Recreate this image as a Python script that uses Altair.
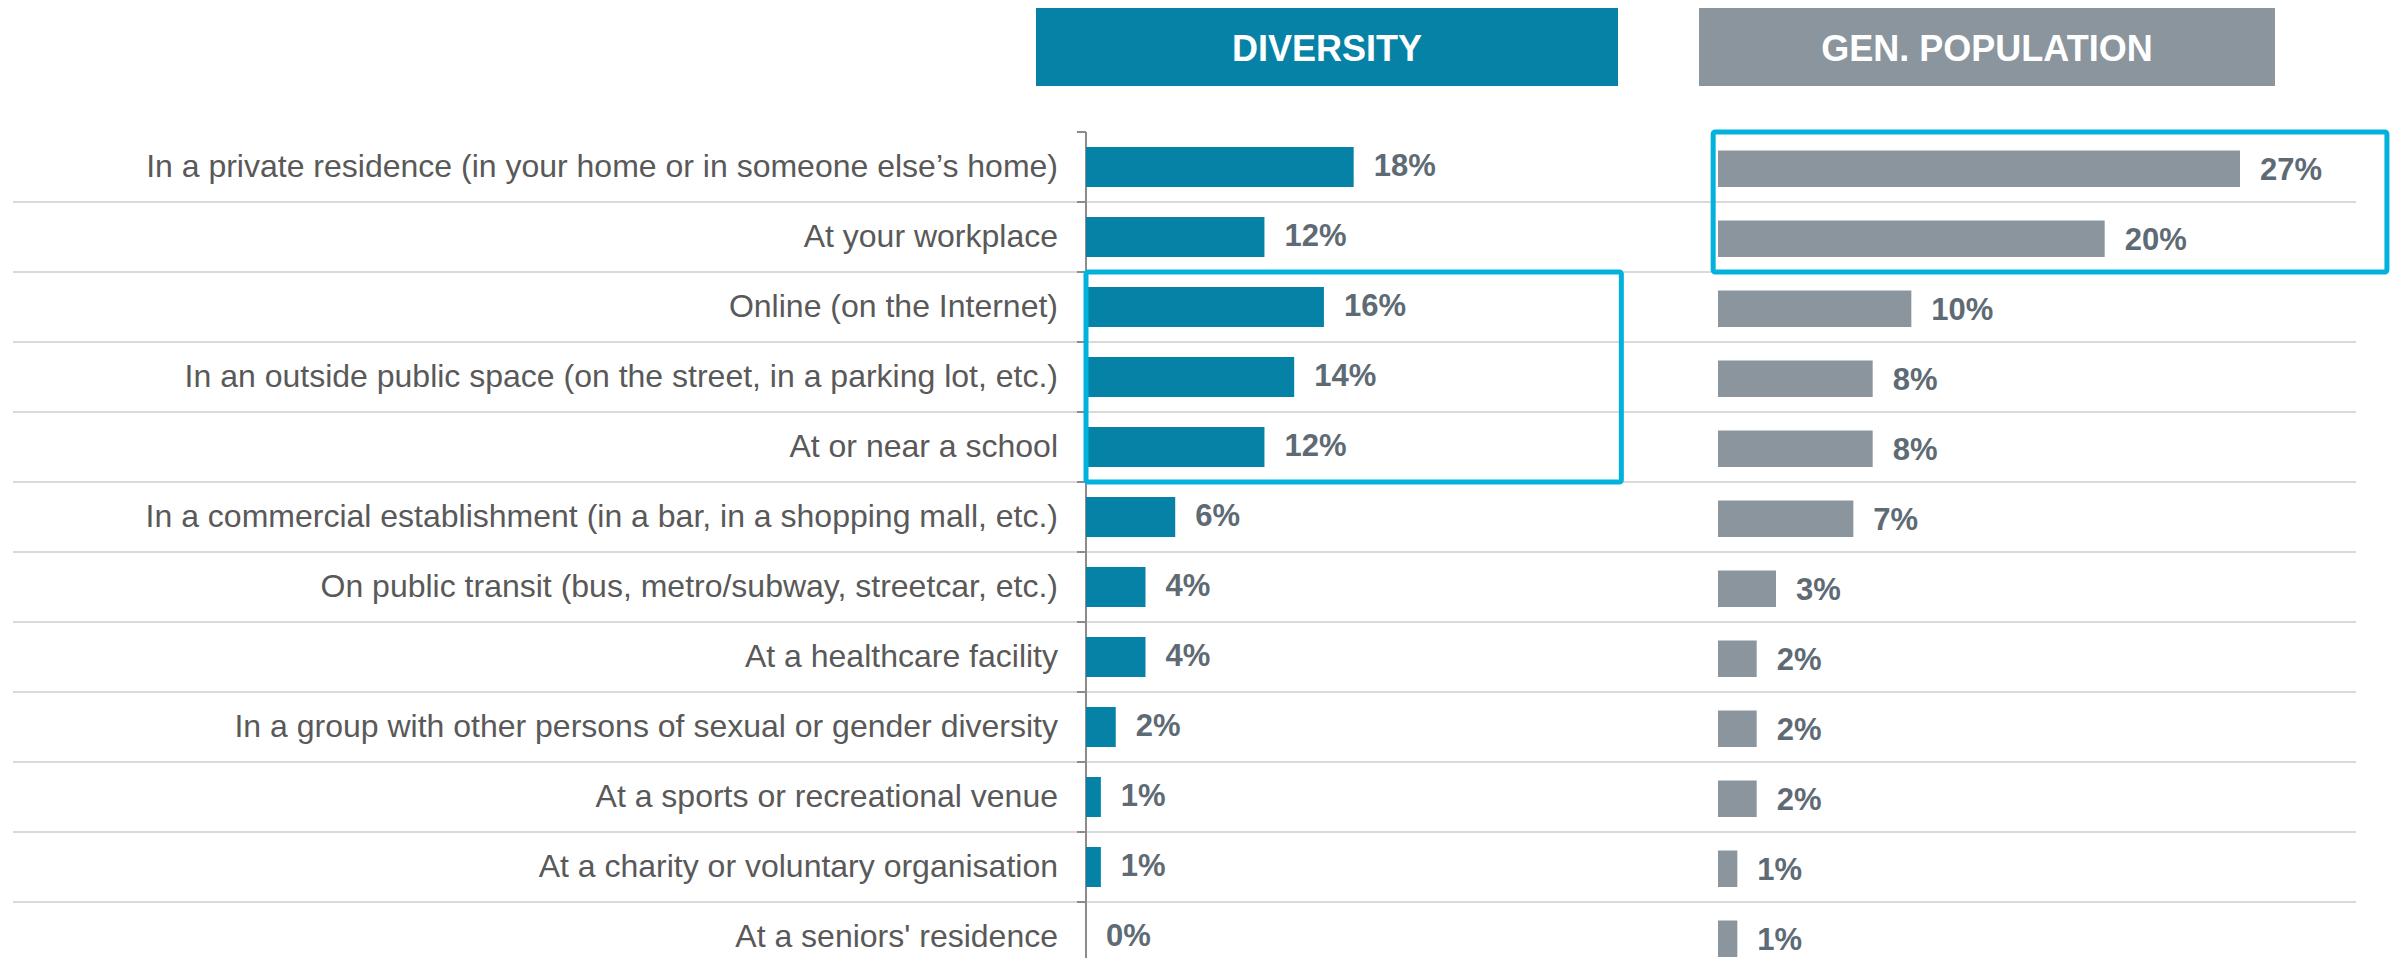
import altair as alt
import pandas as pd

# ---------------- data ----------------
categories = [
    "In a private residence (in your home or in someone else’s home)",
    "At your workplace",
    "Online (on the Internet)",
    "In an outside public space (on the street, in a parking lot, etc.)",
    "At or near a school",
    "In a commercial establishment (in a bar, in a shopping mall, etc.)",
    "On public transit (bus, metro/subway, streetcar, etc.)",
    "At a healthcare facility",
    "In a group with other persons of sexual or gender diversity",
    "At a sports or recreational venue",
    "At a charity or voluntary organisation",
    "At a seniors' residence",
]
diversity = [18, 12, 16, 14, 12, 6, 4, 4, 2, 1, 1, 0]
gen_population = [27, 20, 10, 8, 8, 7, 3, 2, 2, 2, 1, 1]
panel_titles = ["DIVERSITY", "GEN. POPULATION"]

# highlighted groups of rows (outlined boxes)
highlight_panel = ["DIVERSITY", "GEN. POPULATION"]
highlight_first_row = [2, 0]
highlight_last_row = [4, 1]
highlight_x_start = [0, -0.25]
highlight_x_end = [36, 34.6]

# ---------------- style ----------------
FONT = "Liberation Sans, Arial, sans-serif"
TEAL = "#0582a5"
GREY = "#8a959e"
VALUE_COLOR = "#5e6a74"
LABEL_COLOR = "#595959"
BOX_COLOR = "#03b1dd"
GRID_COLOR = "#d9d9d9"
AXIS_COLOR = "#8c8c8c"

ROW_H = 70
Y_DOMAIN = [-0.5, 11.3]
BODY_H = round((Y_DOMAIN[1] - Y_DOMAIN[0]) * ROW_H)
HALF_BAR = 0.2857
TICK_LEN = 9

LABEL_W = 1073
DIV_W = 632
DIV_DOMAIN = [0, 42.5]
GEN_W = 638
GEN_DOMAIN = [0, 33]

yscale = alt.Scale(domain=Y_DOMAIN, reverse=True, nice=False, zero=False)
div_x = alt.Scale(domain=DIV_DOMAIN, nice=False, zero=False)
gen_x = alt.Scale(domain=GEN_DOMAIN, nice=False, zero=False)

n = len(categories)
df = pd.DataFrame({
    "category": categories,
    "row": list(range(n)),
    "diversity": diversity,
    "gen": gen_population,
})
grid_df = pd.DataFrame({"b": [r + 0.5 for r in range(n - 1)]})
tick_df = pd.DataFrame({"b": [r - 0.5 for r in range(n)]})
hl_df = pd.DataFrame({
    "panel": highlight_panel,
    "y0": [f - 0.5 for f in highlight_first_row],
    "y1": [l + 0.5 for l in highlight_last_row],
    "x0": highlight_x_start,
    "x1": highlight_x_end,
})

base = alt.Chart(df).transform_calculate(
    y0=f"datum.row - {HALF_BAR}",
    y1=f"datum.row + {HALF_BAR}",
    zero="0",
    div_label="datum.diversity + '%'",
    gen_label="datum.gen + '%'",
)

grid = alt.Chart(grid_df).mark_rule(color=GRID_COLOR, strokeWidth=2).encode(
    y=alt.Y("b:Q", scale=yscale, axis=None)
)

# ---------------- label panel ----------------
labels = base.mark_text(
    align="right", baseline="middle", font=FONT, fontSize=32, color=LABEL_COLOR
).encode(
    x=alt.value(LABEL_W - 28),
    y=alt.Y("row:Q", scale=yscale, axis=None),
    text="category:N",
)
label_panel = alt.layer(grid, labels).properties(width=LABEL_W, height=BODY_H)

# ---------------- diversity panel ----------------
axis_line = alt.Chart(pd.DataFrame({"zero": [0]})).mark_rule(
    color=AXIS_COLOR, strokeWidth=2
).encode(x=alt.X("zero:Q", scale=div_x, axis=None))
axis_ticks = alt.Chart(tick_df).mark_rule(color=AXIS_COLOR, strokeWidth=2).encode(
    y=alt.Y("b:Q", scale=yscale, axis=None),
    x=alt.value(-TICK_LEN),
    x2=alt.value(0),
)
div_bars = base.mark_rect(color=TEAL).encode(
    x=alt.X("zero:Q", scale=div_x, axis=None),
    x2="diversity:Q",
    y=alt.Y("y0:Q", scale=yscale, axis=None),
    y2="y1:Q",
)
div_text = base.mark_text(
    align="left", baseline="middle", dx=20, font=FONT, fontSize=31,
    fontWeight="bold", color=VALUE_COLOR,
).encode(
    x=alt.X("diversity:Q", scale=div_x, axis=None),
    y=alt.Y("row:Q", scale=yscale, axis=None),
    text="div_label:N",
)
div_box = alt.Chart(hl_df).transform_filter(
    alt.datum.panel == "DIVERSITY"
).mark_rect(fillOpacity=0, stroke=BOX_COLOR, strokeWidth=5, cornerRadius=2).encode(
    x=alt.X("x0:Q", scale=div_x, axis=None),
    x2="x1:Q",
    y=alt.Y("y0:Q", scale=yscale, axis=None),
    y2="y1:Q",
)
div_panel = alt.layer(grid, axis_ticks, axis_line, div_bars, div_text, div_box).properties(
    width=DIV_W, height=BODY_H
)

# ---------------- general population panel ----------------
gen_bars = base.mark_rect(color=GREY, yOffset=3.5).encode(
    x=alt.X("zero:Q", scale=gen_x, axis=None),
    x2="gen:Q",
    y=alt.Y("y0:Q", scale=yscale, axis=None),
    y2="y1:Q",
)
gen_text = base.mark_text(
    align="left", baseline="middle", dx=20, yOffset=3.5, font=FONT, fontSize=31,
    fontWeight="bold", color=VALUE_COLOR,
).encode(
    x=alt.X("gen:Q", scale=gen_x, axis=None),
    y=alt.Y("row:Q", scale=yscale, axis=None),
    text="gen_label:N",
)
gen_box = alt.Chart(hl_df).transform_filter(
    alt.datum.panel == "GEN. POPULATION"
).mark_rect(fillOpacity=0, stroke=BOX_COLOR, strokeWidth=5, cornerRadius=2).encode(
    x=alt.X("x0:Q", scale=gen_x, axis=None),
    x2="x1:Q",
    y=alt.Y("y0:Q", scale=yscale, axis=None),
    y2="y1:Q",
)
gen_panel = alt.layer(grid, gen_bars, gen_text, gen_box).properties(
    width=GEN_W, height=BODY_H
)

body = alt.hconcat(label_panel, div_panel, gen_panel, spacing=0, bounds="flush")

# ---------------- header row ----------------
HEAD_H = 78


def spacer(w):
    return alt.Chart(pd.DataFrame({"v": [0]})).mark_point(opacity=0).properties(
        width=w, height=HEAD_H
    )


def header(title, color, w):
    return alt.Chart(pd.DataFrame({"t": [title]})).mark_text(
        font=FONT, fontSize=36, fontWeight="bold", color="white",
        align="center", baseline="alphabetic",
    ).encode(
        text="t:N", x=alt.value(w / 2), y=alt.value(53)
    ).properties(
        width=w, height=HEAD_H, view=alt.ViewBackground(fill=color, strokeWidth=0)
    )


head = alt.hconcat(
    spacer(1023),
    header(panel_titles[0], TEAL, 582),
    spacer(81),
    header(panel_titles[1], GREY, 576),
    spacing=0,
    bounds="flush",
)

chart = alt.vconcat(head, body, spacing=43).properties(
    padding={"left": 4, "top": 0, "right": 0, "bottom": 0}
).configure_view(strokeWidth=0)

chart.save("out.html", embed_options={"renderer": "svg", "actions": False})
